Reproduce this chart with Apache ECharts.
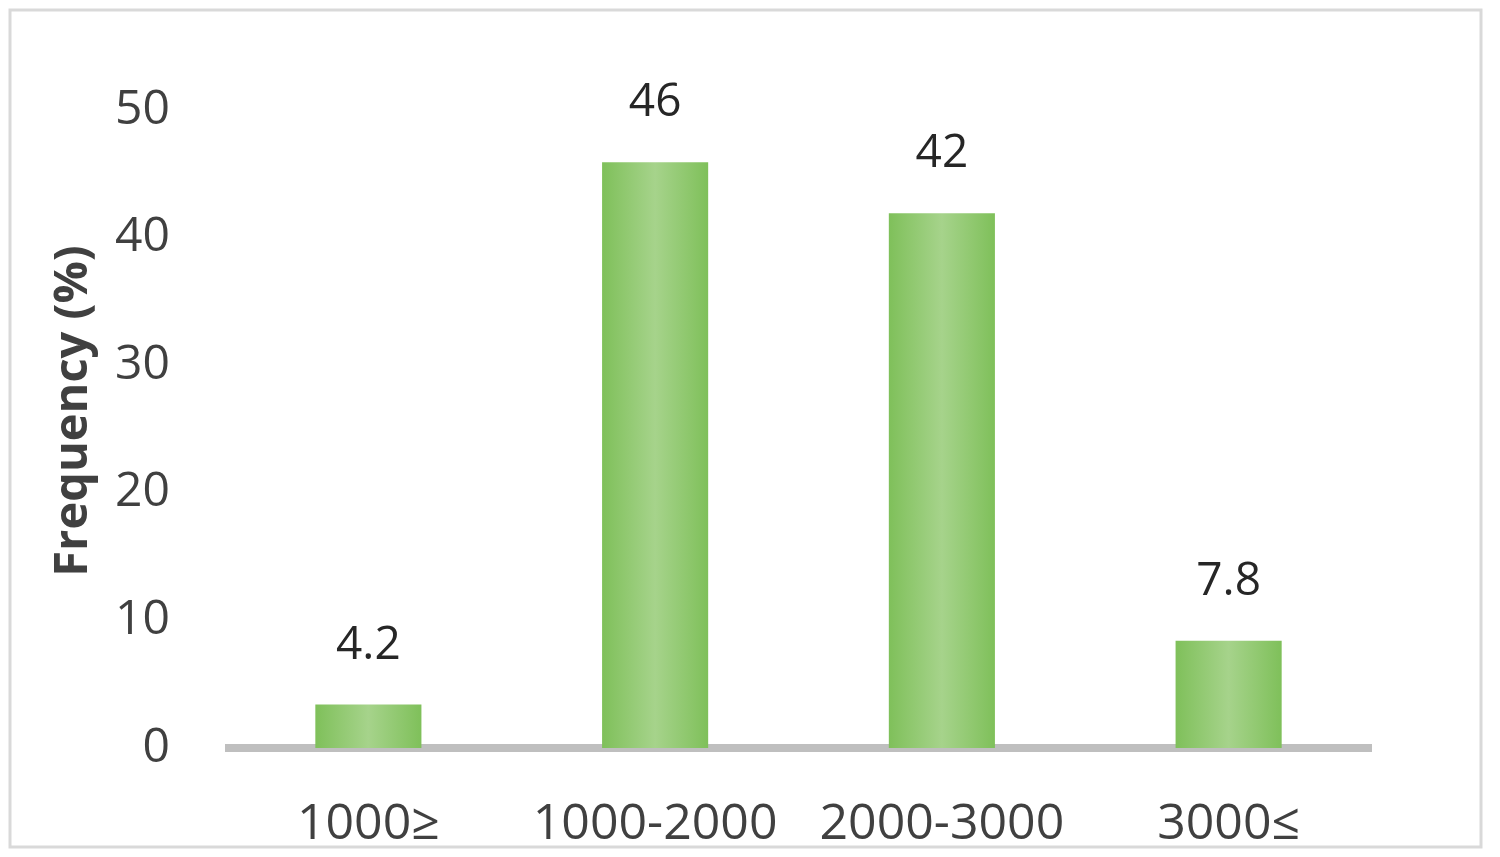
<!DOCTYPE html>
<html><head><meta charset="utf-8">
<script src="https://cdn.jsdelivr.net/npm/echarts@6/dist/echarts.min.js"></script>
<style>html,body{margin:0;padding:0;background:#fff}#c{width:1500px;height:857px}</style>
</head><body><div id="c"></div>
<script>
const categories = ["1000\u2265", "1000-2000", "2000-3000", "3000\u2264"];
const barHeights = [3.4, 45.9, 41.9, 8.4];
const barLabels = ["4.2", "46", "42", "7.8"];
const yTicks = [0, 10, 20, 30, 40, 50];

const chart = echarts.init(document.getElementById('c'));
const fnt = "'Open Sans', 'Noto Sans', sans-serif";
chart.setOption({
  animation: false,
  graphic: [{type:'rect', shape:{x:10,y:10,width:1471,height:837}, style:{fill:'none', stroke:'#d9d9d9', lineWidth:3}, z:-1}],
  grid: {left: 225, right: 128, top: 110, bottom: 109},
  xAxis: {
    type: 'category', data: categories,
    axisLine: {lineStyle: {color: '#bfbfbf', width: 8, cap: 'butt'}},
    axisTick: {show: false},
    axisLabel: {fontSize: 50, color: '#404040', fontFamily: fnt, margin: 52, interval: 0}
  },
  yAxis: {
    type: 'value', min: 0, max: 50, interval: 10,
    name: 'Frequency (%)', nameLocation: 'middle', nameGap: 128, nameRotate: 90,
    nameTextStyle: {fontSize: 47, fontWeight: 'bold', color: '#404040', fontFamily: fnt, padding: [0, 0, 0, 36]},
    axisLine: {show: false}, axisTick: {show: false}, splitLine: {show: false},
    axisLabel: {fontSize: 48, color: '#404040', fontFamily: fnt, margin: 55,
      formatter: v => yTicks.includes(v) ? String(v) : ''}
  },
  series: [{
    type: 'bar', data: barHeights, barWidth: '37%',
    itemStyle: {color: new echarts.graphic.LinearGradient(0,0,1,0,[
      {offset:0, color:'#7fc05a'},{offset:0.5, color:'#a6d38b'},{offset:1, color:'#7fc05a'}])},
    label: {show: true, position: 'top', distance: 36, fontSize: 46, color: '#262626', fontFamily: fnt,
      formatter: p => barLabels[p.dataIndex]}
  }]
});
</script></body></html>
